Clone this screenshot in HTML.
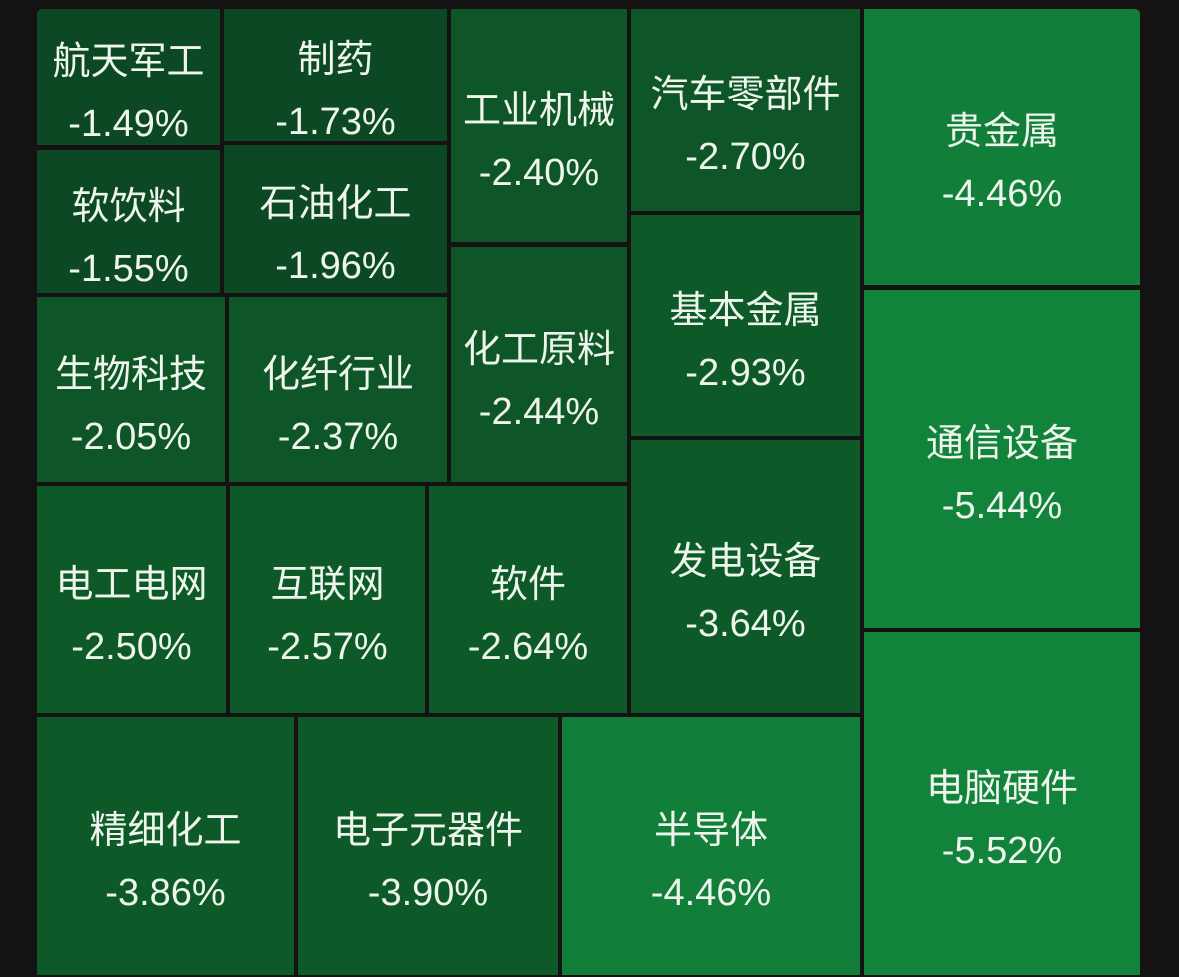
<!DOCTYPE html>
<html><head><meta charset="utf-8"><style>
html,body{margin:0;padding:0;background:#141213;width:1179px;height:977px;overflow:hidden}
.t{position:absolute;display:flex;flex-direction:column;align-items:center;justify-content:center;color:#eef5ec;font-family:"Liberation Sans","Noto Sans CJK SC",sans-serif;font-size:38px;line-height:62px;box-sizing:border-box;padding-top:32px;white-space:nowrap}
.a{background:#0d4824}.b{background:#0e5527}.c{background:#0d5a28}.d{background:#117f3a}.e{background:#12833b}
</style></head><body>
<div class="t a" style="left:37px;top:9px;width:183px;height:136px;border-top-left-radius:5px">航天军工<span>-1.49%</span></div>
<div class="t a" style="left:224px;top:9px;width:223px;height:132px">制药<span>-1.73%</span></div>
<div class="t a" style="left:37px;top:150px;width:183px;height:143px">软饮料<span>-1.55%</span></div>
<div class="t a" style="left:224px;top:145px;width:223px;height:148px">石油化工<span>-1.96%</span></div>
<div class="t b" style="left:37px;top:297px;width:188px;height:185px">生物科技<span>-2.05%</span></div>
<div class="t b" style="left:229px;top:297px;width:218px;height:185px">化纤行业<span>-2.37%</span></div>
<div class="t b" style="left:451px;top:9px;width:176px;height:233px">工业机械<span>-2.40%</span></div>
<div class="t b" style="left:451px;top:247px;width:176px;height:235px">化工原料<span>-2.44%</span></div>
<div class="t b" style="left:631px;top:9px;width:229px;height:202px">汽车零部件<span>-2.70%</span></div>
<div class="t c" style="left:631px;top:215px;width:229px;height:221px">基本金属<span>-2.93%</span></div>
<div class="t c" style="left:631px;top:440px;width:229px;height:273px">发电设备<span>-3.64%</span></div>
<div class="t c" style="left:37px;top:486px;width:189px;height:227px">电工电网<span>-2.50%</span></div>
<div class="t c" style="left:230px;top:486px;width:195px;height:227px">互联网<span>-2.57%</span></div>
<div class="t c" style="left:429px;top:486px;width:198px;height:227px">软件<span>-2.64%</span></div>
<div class="t c" style="left:37px;top:717px;width:257px;height:258px">精细化工<span>-3.86%</span></div>
<div class="t c" style="left:298px;top:717px;width:260px;height:258px">电子元器件<span>-3.90%</span></div>
<div class="t d" style="left:562px;top:717px;width:298px;height:258px">半导体<span>-4.46%</span></div>
<div class="t d" style="left:864px;top:9px;width:276px;height:276px;border-top-right-radius:5px">贵金属<span>-4.46%</span></div>
<div class="t e" style="left:864px;top:290px;width:276px;height:338px">通信设备<span>-5.44%</span></div>
<div class="t e" style="left:864px;top:632px;width:276px;height:343px">电脑硬件<span>-5.52%</span></div>
</body></html>
